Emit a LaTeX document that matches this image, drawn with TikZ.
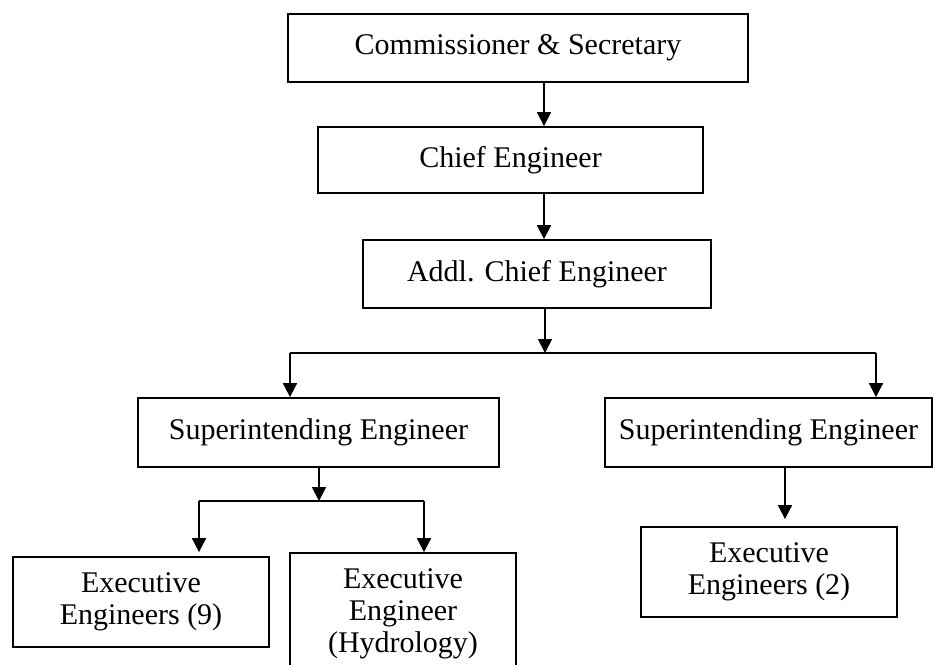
\documentclass[tikz,border=0pt]{standalone}
\usepackage{fontspec}
\setmainfont{Liberation Serif}
\usetikzlibrary{arrows.meta, positioning}

\begin{document}
\begin{tikzpicture}[x=0.5pt, y=-0.5pt,
        post/.style={draw, line width=0.9pt, inner sep=0pt, align=center,
                font=\fontsize{15}{16}\selectfont},
        arr/.style={line width=0.9pt, -{Triangle[length=7pt, width=7pt]}},
        link/.style={line width=0.9pt}]
    \clip (0,0) rectangle (934,665);
    % chain of command
    \node[post, minimum width=230pt, minimum height=34pt] (comsec) at (518,48) {Commissioner \& Secretary};
    \node[post, minimum width=192.5pt, minimum height=33pt] (chief) at (510.5,160) {Chief Engineer};
    \node[post, minimum width=174pt, minimum height=34pt] (addl) at (537,274) {Addl. Chief Engineer};
    \node[post, minimum width=180.5pt, minimum height=34.5pt] (supl) at (318.5,432.5) {Superintending Engineer};
    \node[post, minimum width=163.5pt, minimum height=34.5pt] (supr) at (768.5,432.5) {Superintending Engineer};
    \node[post, minimum width=128pt, minimum height=45pt] (exnine) at (141,602) {Executive\\Engineers (9)};
    \node[post, minimum width=113pt, minimum height=61pt] (exhyd) at (403,614) {Executive\\Engineer\\(Hydrology)};
    \node[post, minimum width=128pt, minimum height=45pt] (extwo) at (769,572) {Executive\\Engineers (2)};

    \coordinate (spine) at (544,0);
    \coordinate (split) at (545,353);
    \coordinate (splitl) at (290,353);
    \coordinate (splitr) at (876,353);
    \coordinate (subsplit) at (319,501);
    \coordinate (subl) at (199,501);
    \coordinate (subr) at (424,501);
    \coordinate (drop) at (785,0);

    \draw[arr] (comsec.south -| spine) -- (chief.north -| spine);
    \draw[arr] (chief.south -| spine) -- (addl.north -| spine);
    \draw[arr] (addl.south -| split) -- (split);
    \draw[link] (splitl) -- (splitr);
    \draw[arr] (splitl) -- (supl.north -| splitl);
    \draw[arr] (splitr) -- (supr.north -| splitr);
    % lower level
    \draw[arr] (supl.south -| subsplit) -- (subsplit);
    \draw[link] (subl) -- (subr);
    \draw[arr, shorten >=2pt] (subl) -- (exnine.north -| subl);
    \draw[arr] (subr) -- (exhyd.north -| subr);
    \draw[arr, shorten >=3.5pt] (supr.south -| drop) -- (extwo.north -| drop);
\end{tikzpicture}
\end{document}
